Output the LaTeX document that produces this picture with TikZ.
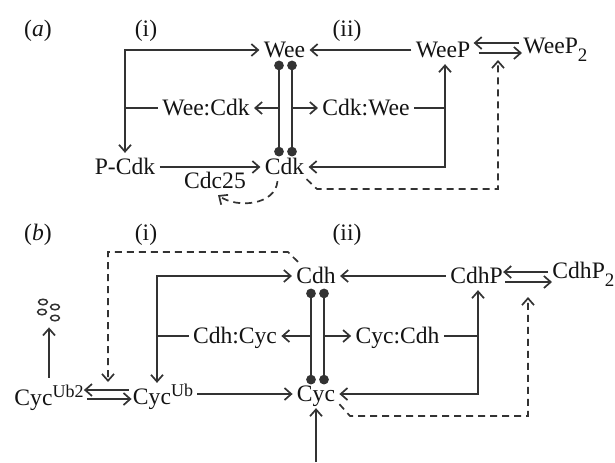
\documentclass[tikz,border=0pt]{standalone}
\usepackage{fontspec}
\setmainfont{Liberation Serif}
\usetikzlibrary{arrows.meta}
\newcommand{\sbtwo}{\raisebox{-0.34em}{\fontsize{9.5}{10}\selectfont 2}}
\newcommand{\supx}[1]{\raisebox{0.36em}{\fontsize{9}{10}\selectfont #1}}
\begin{document}
\begin{tikzpicture}[x=0.5pt,y=-0.5pt,
  every node/.style={font=\fontsize{11.8}{14}\selectfont, text=black!92},
  lab/.style={inner xsep=2pt, inner ysep=3pt, text height=7.75pt, text depth=0pt},
  ln/.style={line width=0.85pt, draw=black!80},
  arr/.style={ln, -{Straight Barb[length=3.4pt,width=6pt]}},
  dsh/.style={arr, dash pattern=on 3.5pt off 2.5pt},
  bar/.style={ln, {Circle[length=4.8pt]}-{Circle[length=4.8pt]}},
  degc/.style={line width=0.75pt, draw=black!80}]
\useasboundingbox (0,0) rectangle (615,462);
% ---------------- panel (a)
\node[lab] (la) at (38,29) {(\textit{a})};
\node[lab] (lai) at (146,29) {(i)};
\node[lab] (laii) at (347,29) {(ii)};
\node[lab] (wee) at (284.5,50) {Wee};
\node[lab] (weep) at (443,50) {WeeP};
\node[lab,anchor=west] (weep2) at (519,46) {WeeP\sbtwo};
\node[lab] (weecdk) at (206,108) {Wee:Cdk};
\node[lab] (cdkwee) at (366,108) {Cdk:Wee};
\node[lab] (pcdk) at (125,167) {P-Cdk};
\node[lab] (cdk) at (284.5,167) {Cdk};
\node[lab] (cdc25) at (215,181) {Cdc25};
\coordinate (ja) at (125,108);
\draw[ln] (weecdk.west) -- (ja);
\draw[arr] (ja) |- (wee.west);
\draw[arr] (ja) -- (pcdk.north);
\draw[arr] (pcdk.east) -- (cdk.west);
\draw[bar] ([xshift=-2.75pt,yshift=-5.3pt]wee.center) -- ([xshift=-2.75pt,yshift=5.3pt]cdk.center);
\draw[bar] ([xshift=3.75pt,yshift=-5.3pt]wee.center) -- ([xshift=3.75pt,yshift=5.3pt]cdk.center);
\coordinate (bl) at (279,108);
\coordinate (br) at (292,108);
\draw[arr] (bl) -- (weecdk.east);
\draw[arr] (br) -- (cdkwee.west);
\coordinate (jb) at (445,108);
\draw[ln] (cdkwee.east) -- (jb);
\draw[arr] (jb) -- (jb |- weep.south);
\draw[arr] (jb) |- (cdk.east);
\draw[arr] (weep.west) -- (wee.east);
\draw[arr] ([yshift=1.5pt]weep2.west) -- ([xshift=-0.5pt,yshift=3.5pt]weep.east);
\draw[arr] ([xshift=2pt,yshift=-1.5pt]weep.east) -- ([xshift=1.5pt,yshift=-3.5pt]weep2.west);
\draw[dsh] ([xshift=-3.5pt]cdk.south) to[out=-95,in=-35] ([xshift=1.5pt]cdc25.south);
\coordinate (d1) at (317,189);
\coordinate (d2) at (498,189);
\coordinate (d3) at (498,60);
\draw[dsh] ([xshift=-1pt,yshift=1pt]cdk.south east) -- (d1) -- (d2) -- (d3);
% ---------------- panel (b)
\node[lab] (lb) at (38,233) {(\textit{b})};
\node[lab] (lbi) at (146,233) {(i)};
\node[lab] (lbii) at (347,233) {(ii)};
\node[lab] (cdh) at (316,276) {Cdh};
\node[lab] (cdhp) at (476.5,276) {CdhP};
\node[lab,anchor=west] (cdhp2) at (548,271) {CdhP\sbtwo};
\node[lab] (cdhcyc) at (235,336) {Cdh:Cyc};
\node[lab] (cyccdh) at (397.5,336) {Cyc:Cdh};
\node[lab] (cyc) at (316,394) {Cyc};
\node[lab] (cycub) at (163,397) {Cyc\supx{Ub}};
\node[lab] (cycub2) at (49,398) {Cyc\supx{Ub2}};
\node[inner sep=0pt, minimum width=10pt, minimum height=16pt] (deg) at (49,311) {};
\draw[degc] (43,302) ellipse [x radius=2.2pt, y radius=1.4pt];
\draw[degc] (55,307) ellipse [x radius=2.2pt, y radius=1.4pt];
\draw[degc] (42,312) ellipse [x radius=2.2pt, y radius=1.4pt];
\draw[degc] (55,318) ellipse [x radius=2.2pt, y radius=1.4pt];
\draw[arr] ([yshift=3pt]cycub2.north) -- (deg.south);
\draw[arr] ([yshift=3.5pt]cycub.west) -- ([xshift=-2pt,yshift=4pt]cycub2.east);
\draw[arr] ([xshift=-0.5pt,yshift=-0.5pt]cycub2.east) -- ([xshift=1.5pt,yshift=-1pt]cycub.west);
\coordinate (jc) at (157,336);
\draw[ln] (cdhcyc.west) -- (jc);
\draw[arr] (jc) |- (cdh.west);
\draw[arr] (jc) -- (jc |- cycub.north);
\draw[arr] (cycub.east |- cyc.west) -- (cyc.west);
\draw[bar] ([xshift=-2.5pt,yshift=-6.3pt]cdh.center) -- ([xshift=-2.5pt,yshift=4.8pt]cyc.center);
\draw[bar] ([xshift=4pt,yshift=-6.3pt]cdh.center) -- ([xshift=4pt,yshift=4.8pt]cyc.center);
\coordinate (bl2) at (311,336);
\coordinate (br2) at (324,336);
\draw[arr] (bl2) -- (cdhcyc.east);
\draw[arr] (br2) -- (cyccdh.west);
\coordinate (jd) at (478,336);
\draw[ln] (cyccdh.east) -- (jd);
\draw[arr] (jd) -- (jd |- cdhp.south);
\draw[arr] (jd) |- (cyc.east);
\draw[arr] (cdhp.west) -- (cdh.east);
\draw[arr] ([yshift=-0.5pt]cdhp2.west) -- ([xshift=-2pt,yshift=2pt]cdhp.east);
\draw[arr] ([xshift=-1pt,yshift=-3pt]cdhp.east) -- ([xshift=2pt,yshift=-5.5pt]cdhp2.west);
\coordinate (e1) at (288,252);
\coordinate (e2) at (108,252);
\coordinate (e3) at (108,382);
\draw[dsh] ([xshift=3pt]cdh.north west) -- (e1) -- (e2) -- (e3);
\coordinate (f1) at (350,416);
\coordinate (f2) at (528,416);
\coordinate (f3) at (528,297);
\draw[dsh] ([yshift=2pt]cyc.south east) -- (f1) -- (f2) -- (f3);
\coordinate (src) at (316,462);
\draw[arr] (src) -- (cyc.south);
\end{tikzpicture}
\end{document}
